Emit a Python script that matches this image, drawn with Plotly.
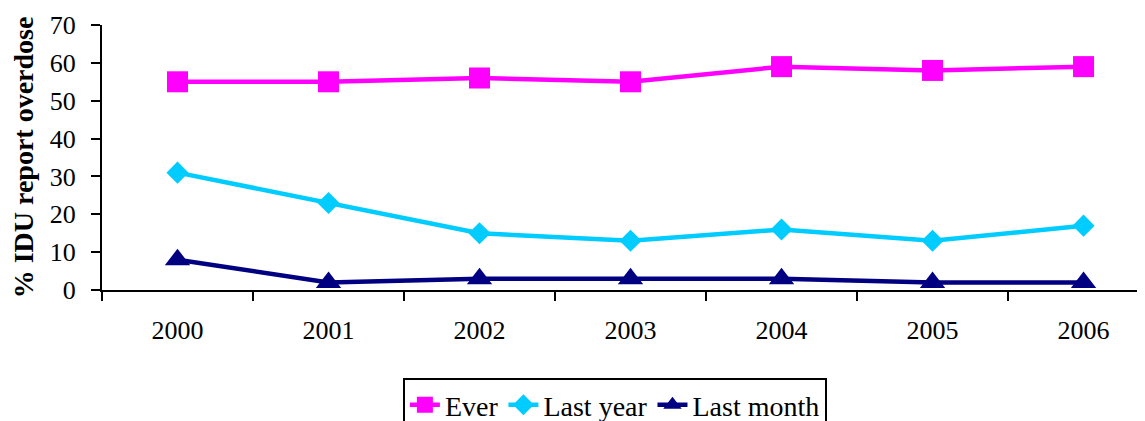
import plotly.graph_objects as go

years = ["2000", "2001", "2002", "2003", "2004", "2005", "2006"]
ever = [55, 55, 56, 55, 59, 58, 59]
last_year = [31, 23, 15, 13, 16, 13, 17]
last_month = [8, 2, 3, 3, 3, 2, 2]

serif = "Liberation Serif"

fig = go.Figure()
fig.add_trace(go.Scatter(x=years, y=ever, name="Ever", mode="lines+markers",
                         line=dict(color="#FF00FF", width=4.5),
                         marker=dict(symbol="square", size=21, color="#FF00FF")))
fig.add_trace(go.Scatter(x=years, y=last_year, name="Last year", mode="lines+markers",
                         line=dict(color="#00CCFF", width=4.5),
                         marker=dict(symbol="diamond", size=17, color="#00CCFF")))
fig.add_trace(go.Scatter(x=years, y=last_month, name="Last month", mode="lines+markers",
                         line=dict(color="#000080", width=4.5),
                         marker=dict(symbol="triangle-up", size=22, color="#000080")))

# the page body has an 8px margin, so the figure is shifted by 8px
fig.update_layout(
    width=1145, height=421,
    margin=dict(l=94, r=0, t=17, b=139),
    plot_bgcolor="white", paper_bgcolor="white",
    font=dict(family=serif, size=26, color="black"),
    showlegend=True,
    legend=dict(orientation="h", x=0.488, xanchor="center",
                yref="container", y=0.121, yanchor="top",
                bordercolor="black", borderwidth=2, font=dict(size=28),
                tracegroupgap=0),
)
fig.update_xaxes(type="category", range=[-0.5, 6.46], tickson="boundaries",
                 showline=True, linecolor="black", linewidth=2,
                 ticks="outside", ticklen=9, tickwidth=2, tickcolor="black",
                 ticklabelstandoff=16, showgrid=False, zeroline=False)
fig.update_yaxes(range=[0, 70], dtick=10, showline=True, linecolor="black", linewidth=2,
                 ticks="outside", ticklen=9, tickwidth=2, tickcolor="black",
                 showgrid=False, zeroline=False, ticklabelstandoff=10,
                 title=dict(text="<b>% IDU report overdose</b>", font=dict(size=28), standoff=12))

fig.write_html("out.html")
